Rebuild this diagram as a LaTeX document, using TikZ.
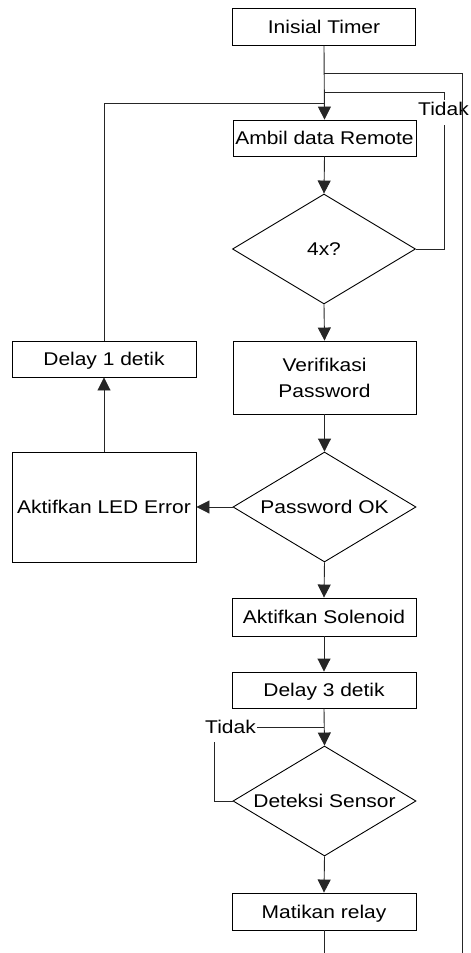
\documentclass[tikz,border=0pt]{standalone}
\usepackage{fontspec}
\setmainfont{Liberation Sans}[FakeStretch=1.14]
\usetikzlibrary{shapes.geometric,arrows.meta}
\begin{document}
\begin{tikzpicture}[x=1pt,y=-1pt,
  font=\fontsize{18.4}{26}\selectfont,
  line width=0.9pt,
  conn/.style={draw=black!85},
  box/.style={draw=black, rectangle, inner sep=0pt, minimum width=183pt, minimum height=37pt, text height=13pt, text depth=0pt},
  dec/.style={draw=black, diamond, shape aspect=1.66, inner sep=0pt, minimum width=183pt, minimum height=110pt, text height=13pt, text depth=0pt},
  lbl/.style={inner sep=1pt, text height=13pt, text depth=0pt},
  arr/.style={conn, -{Triangle[width=13pt,length=13pt]}}
]
\useasboundingbox (0,0) rectangle (471,953);
% nodes
\node[box] (init) at (324,27) {Inisial Timer};
\node[box, minimum height=36pt] (ambil) at (324.5,138) {Ambil data Remote};
\node[dec] (q4) at (324,249) {4x?};
\node[draw=black, rectangle, inner sep=0pt, minimum width=183pt, minimum height=73pt, align=center] (verif) at (324.5,377.5) {Verifikasi\\Password};
\node[box, minimum width=184pt, minimum height=36pt] (d1) at (104,359) {Delay 1 detik};
\node[box, minimum width=184pt, minimum height=110pt] (led) at (104,507) {Aktifkan LED Error};
\node[dec] (pwok) at (324.5,507) {Password OK};
\node[box, minimum width=184pt, minimum height=38pt] (sol) at (324,617) {Aktifkan Solenoid};
\node[box, minimum width=184pt, minimum height=36pt] (d3) at (324,690) {Delay 3 detik};
\node[dec] (ds) at (324.5,801) {Deteksi Sensor};
\node[box, minimum width=184pt, minimum height=37pt] (relay) at (324,911.5) {Matikan relay};
\node[lbl] (t1) at (443.5,109) {Tidak};
\node[lbl] (t2) at (230.5,727) {Tidak};
% coordinates
\coordinate (j1) at (324,73);
\coordinate (j2) at (324,92);
\coordinate (j3) at (324,103);
\coordinate (j4) at (t2.east -| d3.south);
\coordinate (rtop) at (462,73);
\coordinate (rbot) at (462,953);
\coordinate (t1a) at (444,100);
\coordinate (t1b) at (444,125);
\coordinate (t2b) at (214,742);
\coordinate (rend) at (324,953);
% connectors
\draw[arr] (init.south) -- (ambil.north);
\draw[conn] (j1) -- (rtop) -- (rbot);
\draw[conn] (j2) -| (t1a);
\draw[conn] (q4.east) -| (t1b);
\draw[conn] (d1.north) |- (j3);
\draw[arr] (ambil.south) -- (q4.north);
\draw[arr] (q4.south) -- (verif.north);
\draw[arr] (verif.south) -- (pwok.north);
\draw[arr] (pwok.west) -- (led.east);
\draw[arr] (led.north) -- (d1.south);
\draw[arr] (pwok.south) -- (sol.north);
\draw[arr] (sol.south) -- (d3.north);
\draw[arr] (d3.south) -- (ds.north);
\draw[conn] (ds.west) -| (t2b);
\draw[conn] (t2.east) -- (j4);
\draw[arr] (ds.south) -- (relay.north);
\draw[conn] (relay.south) -- (rend);
\end{tikzpicture}
\end{document}
